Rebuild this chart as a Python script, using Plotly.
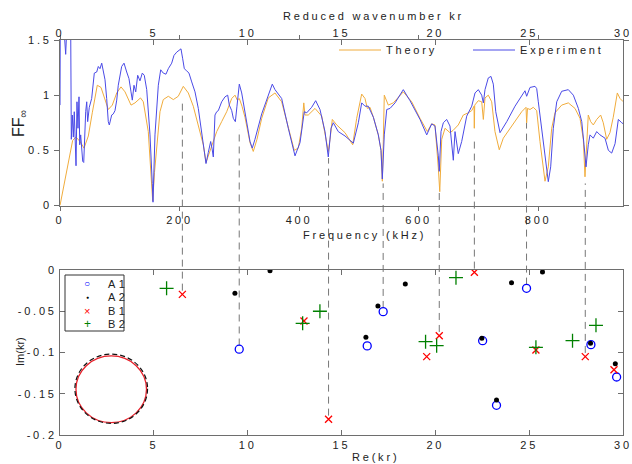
import plotly.graph_objects as go

# ---------------- data ----------------
theory_f = [0, 11.2, 21.2, 26.8, 33.5, 40.2, 47.4, 54.0, 62.4, 68.6, 74.1, 80.8, 87.5, 94.9, 102.1,
            108.8, 118.8, 125.5, 134.7, 139.4, 147.7, 152.3, 155.1, 158.1, 161.8, 167.3, 172.8, 181.2,
            189.6, 197.9, 206.3, 214.7, 223.0, 231.4, 239.8, 244.3, 253.8, 262.2, 270.5, 278.9, 287.3,
            292.8, 296.6, 300.0, 304.5, 309.5, 317.9, 323.4, 329.6, 337.5, 348.5, 359.7, 370.9, 382.0,
            392.0, 398.7, 404.4, 407.9, 409.9, 415.4, 426.7, 437.9, 446.2, 448.9, 451.8, 455.6, 463.0,
            476.9, 489.7, 496.4, 504.8, 510.3, 514.2, 518.7, 524.3, 532.6, 537.1, 539.3, 541.0, 542.6,
            549.3, 557.7, 574.4, 588.5, 602.4, 614.6, 621.9, 627.4, 633.0, 635.4, 638.7, 644.2, 652.5,
            657.6, 666.4, 674.8, 683.2, 688.9, 692.7, 693.2, 693.9, 699.9, 705.6, 708.3, 711.1, 716.6,
            722.3, 727.8, 735.0, 741.7, 752.9, 764.1, 772.5, 779.7, 780.8, 782.2, 786.4, 791.9, 797.6,
            803.1, 808.6, 811.5, 817.0, 822.7, 828.2, 839.4, 850.5, 861.7, 870.1, 875.6, 878.4, 881.3,
            883.9, 887.9, 892.3, 898.0, 904.6, 909.0, 914.7, 920.2, 925.7, 932.5, 937.0, 942.5]
theory_ff = [0, 0.33, 0.59, 0.62, 0.58, 0.52, 0.63, 0.84, 1.09, 1.07, 0.98, 0.87, 0.91, 1.02, 1.075,
             1.03, 0.91, 0.93, 0.975, 0.94, 0.67, 0.30, 0.04, 0.30, 0.55, 0.85, 0.96, 0.99,
             0.96, 0.99, 1.08, 1.02, 0.90, 0.73, 0.55, 0.39, 0.55, 0.67, 0.76, 0.85, 0.97,
             1.00, 0.955, 0.97, 0.90, 0.80, 0.57, 0.49, 0.60, 0.79, 0.975, 1.02, 0.94, 0.70,
             0.50, 0.52, 0.70, 0.93, 0.82, 0.82, 0.88, 0.81, 0.58, 0.49, 0.60, 0.78, 0.73,
             0.66, 0.55, 0.79, 1.01, 0.97, 0.88, 0.89, 0.80, 0.64, 0.50, 0.22, 0.60, 1.00,
             0.91, 0.93, 1.03, 0.94, 0.79, 0.67, 0.74, 0.73, 0.34, 0.125, 0.60, 0.70, 0.66,
             0.68, 0.73, 0.82, 0.84, 0.86, 0.90, 0.70, 0.91, 0.95, 0.94, 0.78, 0.975, 1.00,
             0.94, 0.67, 0.505, 0.61, 0.70, 0.79, 0.85, 0.89, 0.75, 0.88, 0.87, 0.89, 0.86,
             0.58, 0.35, 0.22, 0.35, 0.70, 0.84, 0.91, 0.93, 0.88, 0.79, 0.60, 0.26, 0.60,
             0.82, 0.76, 0.73, 0.78, 0.82, 0.75, 0.60, 0.66, 0.80, 1.02, 0.97, 0.94]

exp_f = [0, 0.5, 2.8, 4.5, 6.7, 9.5, 11.7, 15.1, 17.9, 18.9, 20.6, 22.3, 23.9, 25.1, 26.8, 28.4, 30.1,
         31.8, 33.0, 34.6, 36.3, 38.0, 39.7, 41.3, 43.0, 44.7, 46.3, 49.0, 53.0, 57.4, 61.4, 64.1,
         66.9, 69.8, 72.4, 75.3, 78.1, 80.8, 82.5, 86.5, 89.2, 92.0, 94.9, 97.5, 103.2, 107.1, 111.6,
         115.4, 118.8, 121.0, 123.8, 126.7, 130.0, 133.8, 137.7, 141.0, 145.1, 150.6, 154.4, 155.6,
         158.9, 164.5, 168.5, 172.8, 177.3, 181.2, 186.9, 190.7, 195.3, 199.6, 202.4, 205.3, 208.0,
         212.0, 215.8, 220.4, 225.9, 231.4, 237.1, 240.9, 244.3, 248.1, 252.1, 254.3, 256.5, 259.3,
         262.2, 264.9, 270.5, 276.1, 280.6, 283.3, 287.3, 290.0, 293.4, 296.1, 300.0, 304.0, 309.5,
         317.9, 321.7, 326.2, 337.5, 348.5, 355.2, 359.7, 370.9, 382.0, 393.2, 401.6, 408.7, 412.8,
         421.1, 427.8, 435.0, 443.4, 448.9, 453.5, 457.3, 465.6, 476.9, 490.8, 499.2, 504.8, 510.3,
         515.8, 524.3, 532.6, 537.1, 539.3, 542.6, 546.7, 552.2, 560.6, 574.4, 585.6, 602.4, 613.6,
         621.9, 627.4, 633.0, 634.6, 637.5, 641.4, 647.0, 652.5, 658.1, 660.9, 666.4, 672.1, 680.5,
         688.9, 694.4, 699.9, 705.6, 708.3, 711.1, 716.6, 721.1, 725.0, 729.1, 736.2, 747.5, 761.3,
         772.5, 778.0, 780.8, 786.4, 794.8, 797.6, 800.3, 808.6, 814.3, 817.0, 821.0, 825.4, 831.1,
         839.4, 850.5, 858.9, 867.3, 873.0, 876.8, 880.1, 883.9, 886.8, 892.3, 898.0, 903.5, 911.9,
         917.5, 923.1, 928.7, 934.2, 939.9, 942.5]
exp_ff = [0.91, 1.70, 1.60, 1.70, 1.60, 1.37, 1.65, 1.70, 1.60, 0.60, 0.82, 0.62, 0.85, 0.67, 0.36, 0.94, 0.70,
          0.985, 0.55, 0.64, 0.55, 0.40, 0.39, 0.64, 0.85, 0.94, 0.76, 0.89, 0.97, 1.20, 1.21, 1.26,
          1.24, 1.29, 1.22, 1.14, 0.97, 0.76, 0.73, 0.82, 0.83, 0.86, 0.955, 1.09, 1.26, 1.29, 1.21,
          1.15, 1.03, 0.955, 1.09, 1.03, 1.18, 1.13, 1.20, 1.18, 1.05, 0.64, 0.20, 0.03,
          0.64, 1.09, 1.23, 1.20, 1.19, 1.24, 1.29, 1.36, 1.39, 1.41, 1.42, 1.33, 1.24,
          1.22, 1.20, 1.12, 1.03, 0.88, 0.67, 0.52, 0.38, 0.48, 0.58, 0.52, 0.44, 0.82,
          0.85, 0.86, 0.94, 0.985, 1.00, 0.91, 0.86, 0.79, 0.76, 0.90, 1.10, 1.02, 0.85,
          0.58, 0.52, 0.60, 0.83, 1.00, 1.10, 1.05, 0.97, 0.70, 0.45, 0.57, 0.85, 0.84,
          0.89, 0.95, 0.87, 0.67, 0.44, 0.70, 0.75, 0.67, 0.63, 0.565, 0.75, 0.93, 0.90,
          0.90, 0.80, 0.64, 0.50, 0.24, 0.64, 0.87, 0.88, 0.93, 1.05, 0.95, 0.78, 0.64,
          0.74, 0.72, 0.45, 0.31, 0.67, 0.75, 0.78, 0.72, 0.41, 0.67, 0.47, 0.58, 0.81,
          0.90, 1.02, 1.05, 1.00, 0.93, 1.05, 1.156, 1.17, 1.10, 0.85, 0.66, 0.76, 0.90,
          1.00, 1.04, 0.99, 1.07, 1.08, 1.06, 0.94, 0.58, 0.30, 0.216, 0.35, 0.70, 0.94,
          1.035, 1.05, 1.00, 0.88, 0.76, 0.55, 0.35, 0.55, 0.64, 0.61, 0.67, 0.64, 0.61,
          0.50, 0.475, 0.56, 0.78, 0.75, 0.74]

a1_re = [9.55, 17.22, 16.37, 22.52, 23.26, 24.86, 28.29, 29.66]
a1_im = [-0.096, -0.0505, -0.092, -0.0857, -0.164, -0.0222, -0.0905, -0.1297]
a2_re = [9.32, 11.19, 16.30, 16.94, 18.40, 22.48, 23.26, 24.06, 25.71, 28.27, 29.59]
a2_im = [-0.0283, -0.0008, -0.0816, -0.0436, -0.017, -0.0828, -0.1576, -0.0154, -0.0024, -0.0889, -0.1135]
b1_re = [6.52, 13.00, 14.31, 19.54, 20.21, 22.08, 25.36, 27.99, 29.52]
b1_im = [-0.0295, -0.0618, -0.181, -0.105, -0.0796, -0.0028, -0.097, -0.105, -0.121]
b2_re = [5.68, 12.93, 13.85, 19.48, 20.07, 21.10, 25.36, 27.31, 28.56]
b2_im = [-0.0222, -0.0646, -0.050, -0.0869, -0.0917, -0.0093, -0.0937, -0.0857, -0.067]

# connectors: resonance seen in the spectrum -> pole in the complex plane
conn_re = [6.52, 9.55, 14.31, 17.22, 20.21, 22.08, 24.86, 27.99]
conn_im = [-0.0295, -0.096, -0.181, -0.0505, -0.0796, -0.0028, -0.0222, -0.105]
conn_ff = [0.96, 0.69, 0.43, 0.20, 0.12, 0.61, 0.75, 0.20]

# cross-section sketch (circle vs. ellipse)
ell_cx = [2.73, 2.73]
ell_cy = [-0.1446, -0.1439]
ell_rx = [1.88, 1.935]
ell_ry = [0.0404, 0.042]

freq_ticks = [0, 200, 400, 600, 800]
kr_ticks = [0, 5, 10, 15, 20, 25, 30]
ff_ticks = [0, 0.5, 1, 1.5]
ff_labels = ["0", "0.5", "1", "1.5"]
im_ticks = [0, -0.05, -0.1, -0.15, -0.2]
im_labels = ["0", "-0.05", "-0.1", "-0.15", "-0.2"]

# ---------------- layout helpers ----------------
W, H = 632, 464
XD = [60 / W, 623 / W]
YTOP = [1 - 205.5 / H, 1 - 40 / H]
YBOT = [1 - 435 / H, 1 - 270 / H]
FRANGE = [0, 942]
FFRANGE = [0, 1.5]
IMRANGE = [-0.2, 0]

FONT = "Arial, 'Liberation Sans', sans-serif"
AXC = "#6e6e6e"
TXC = "#222222"


def sp(s, px=2.8):
    return f'<span style="letter-spacing:{px}px">{s}</span>'


def ptop(v):
    return YTOP[0] + (v - FFRANGE[0]) / (FFRANGE[1] - FFRANGE[0]) * (YTOP[1] - YTOP[0])


def pbot(v):
    return YBOT[0] + (v - IMRANGE[0]) / (IMRANGE[1] - IMRANGE[0]) * (YBOT[1] - YBOT[0])


fig = go.Figure()

fig.add_trace(go.Scatter(x=theory_f, y=theory_ff, mode="lines", name=sp("Theory"),
                         line=dict(color="#f0ac3c", width=1), xaxis="x", yaxis="y"))
fig.add_trace(go.Scatter(x=exp_f, y=exp_ff, mode="lines", name=sp("Experiment"),
                         line=dict(color="#4a4ae6", width=1), xaxis="x", yaxis="y"))

fig.add_trace(go.Scatter(x=a1_re, y=a1_im, mode="markers", name="A 1", showlegend=False,
                         marker=dict(symbol="circle-open", size=8, color="#0000ff", line=dict(width=1.3)),
                         xaxis="x2", yaxis="y2"))
fig.add_trace(go.Scatter(x=a2_re, y=a2_im, mode="markers", name="A 2", showlegend=False,
                         marker=dict(symbol="circle", size=5, color="#000000"),
                         xaxis="x2", yaxis="y2"))
fig.add_trace(go.Scatter(x=b1_re, y=b1_im, mode="markers", name="B 1", showlegend=False,
                         marker=dict(symbol="x-thin-open", size=7, color="#ff0000", line=dict(width=1.3, color="#ff0000")),
                         xaxis="x2", yaxis="y2"))
fig.add_trace(go.Scatter(x=b2_re, y=b2_im, mode="markers", name="B 2", showlegend=False,
                         marker=dict(symbol="cross-thin-open", size=10, color="#008000", line=dict(width=1.3, color="#008000")),
                         xaxis="x2", yaxis="y2"))

shapes = []
# ellipses
shapes.append(dict(type="circle", xref="x2", yref="y2",
                   x0=ell_cx[0] - ell_rx[0], x1=ell_cx[0] + ell_rx[0],
                   y0=ell_cy[0] - ell_ry[0], y1=ell_cy[0] + ell_ry[0],
                   line=dict(color="#e8202a", width=1.3)))
shapes.append(dict(type="circle", xref="x2", yref="y2",
                   x0=ell_cx[1] - ell_rx[1], x1=ell_cx[1] + ell_rx[1],
                   y0=ell_cy[1] - ell_ry[1], y1=ell_cy[1] + ell_ry[1],
                   line=dict(color="#111111", width=1.2, dash="5px,3px")))
# dashed connectors
for re_, im_, ff_ in zip(conn_re, conn_im, conn_ff):
    shapes.append(dict(type="line", xref="x2", yref="paper", x0=re_, x1=re_,
                       y0=pbot(im_) + 0.008, y1=ptop(ff_),
                       line=dict(color="#777777", width=1, dash="7px,5px"), layer="below"))
# legend box for bottom panel
shapes.append(dict(type="rect", xref="paper", yref="paper",
                   x0=65 / W, x1=124 / W, y0=1 - 331 / H, y1=1 - 275 / H,
                   line=dict(color="#333333", width=1), fillcolor="white", layer="above"))

annotations = []


def ann(text, xpx, ypx, size=11, angle=0, xanchor="center", color=TXC):
    annotations.append(dict(text=text, x=xpx / W, y=1 - ypx / H, xref="paper", yref="paper",
                            showarrow=False, textangle=angle, xanchor=xanchor, yanchor="middle",
                            font=dict(family=FONT, size=size, color=color)))


ann(sp("Reduced wavenumber kr"), 373, 16.5)
ann(sp("Frequency (kHz)"), 364, 235)
ann(sp("Re(kr)"), 376, 457)
ann("Im(kr)", 20, 352, angle=-90)
ann("FF<sub>∞</sub>", 19, 123, size=16, angle=-90)

# bottom legend entries
leg_names = ["A 1", "A 2", "B 1", "B 2"]
leg_syms = ["○", "●", "×", "+"]
leg_cols = ["#0000ff", "#000000", "#ff0000", "#008000"]
leg_sizes = [10, 5, 11, 12]
leg_y = [283.5, 297, 310.5, 323.5]
for nm, sy, cl, sz, yy in zip(leg_names, leg_syms, leg_cols, leg_sizes, leg_y):
    ann(sy, 87.5, yy, size=sz, color=cl)
    ann(sp(nm.replace(" ", ""), 3.5), 106, yy, size=11, xanchor="left")

tickfont = dict(family=FONT, size=11, color=TXC)

fig.update_layout(
    width=W, height=H,
    margin=dict(l=0, r=0, t=0, b=0),
    paper_bgcolor="white", plot_bgcolor="white",
    font=dict(family=FONT, size=11, color=TXC),
    showlegend=True,
    legend=dict(orientation="h", x=334 / W, y=1 - 50 / H, xanchor="left", yanchor="middle",
                bgcolor="rgba(0,0,0,0)", borderwidth=0, font=dict(family=FONT, size=11, color=TXC),
                entrywidth=77, entrywidthmode="pixels", itemwidth=42),
    xaxis=dict(domain=XD, range=FRANGE, anchor="y", showgrid=False, zeroline=False,
               showline=True, linecolor=AXC, linewidth=1, mirror="ticks",
               ticks="outside", ticklen=4, tickcolor=AXC, tickmode="array",
               tickvals=freq_ticks, ticktext=[sp(str(t)) for t in freq_ticks], tickfont=tickfont,
               automargin=False),
    yaxis=dict(domain=YTOP, range=FFRANGE, anchor="x", showgrid=False, zeroline=False,
               showline=True, linecolor=AXC, linewidth=1, mirror="ticks",
               ticks="outside", ticklen=5, tickcolor=AXC, tickmode="array",
               tickvals=ff_ticks, ticktext=[sp(t) for t in ff_labels],
               tickfont=tickfont, automargin=False),
    xaxis3=dict(overlaying="x", side="top", anchor="y", range=[0, 30], showgrid=False,
                zeroline=False, showline=False, ticks="inside", ticklen=5, tickcolor=AXC,
                tickmode="array", tickvals=kr_ticks, ticktext=[sp(str(t)) for t in kr_ticks],
                tickfont=tickfont, automargin=False),
    xaxis2=dict(domain=XD, range=[0, 30], anchor="y2", showgrid=False, zeroline=False,
                showline=True, linecolor=AXC, linewidth=1, mirror="ticks",
                ticks="inside", ticklen=5, tickcolor=AXC, tickmode="array",
                tickvals=kr_ticks, ticktext=[sp(str(t)) for t in kr_ticks], tickfont=tickfont,
                automargin=False),
    yaxis2=dict(domain=YBOT, range=IMRANGE, anchor="x2", showgrid=False, zeroline=False,
                showline=True, linecolor=AXC, linewidth=1, mirror="ticks",
                ticks="inside", ticklen=5, tickcolor=AXC, tickmode="array",
                tickvals=im_ticks, ticktext=[sp(t) for t in im_labels], tickfont=tickfont,
                automargin=False),
    shapes=shapes,
    annotations=annotations,
)

# helper trace so the top kr axis is attached to the upper panel
fig.add_trace(go.Scatter(x=[0, 30], y=[-1, -1], mode="lines", showlegend=False, hoverinfo="skip",
                         line=dict(width=0, color="rgba(0,0,0,0)"), xaxis="x3", yaxis="y"))

fig.write_html("out.html")
